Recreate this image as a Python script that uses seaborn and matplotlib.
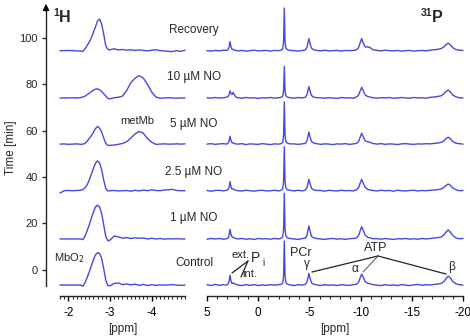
import numpy as np
import pandas as pd
import matplotlib
matplotlib.use("Agg")
import matplotlib.pyplot as plt
import seaborn as sns
from matplotlib.ticker import MultipleLocator, FixedLocator
from matplotlib.transforms import blended_transform_factory

# ---------------- data ----------------
conditions = ["Control", "1 µM NO", "2.5 µM NO", "5 µM NO", "10 µM NO", "Recovery"]
offsets = [-6.6, 13.3, 34.1, 54.2, 74.1, 94.5]          # time [min] of each trace baseline
label_times = [2.9, 22.3, 42.2, 62.9, 83.1, 103.4]

# 1H spectra (ppm grid and intensities, in time units above baseline)
h_ppm = [-1.80, -1.90, -2.00, -2.10, -2.20, -2.30, -2.35, -2.40, -2.45, -2.50,
         -2.55, -2.60, -2.65, -2.70, -2.75, -2.80, -2.85, -2.90, -2.95, -3.00,
         -3.10, -3.20, -3.30, -3.40, -3.50, -3.60, -3.70, -3.80, -3.90, -4.00,
         -4.10, -4.20, -4.30, -4.40, -4.50, -4.60, -4.70, -4.80]
h_control = [0.1, 0.0, 0.1, 0.0, 0.1, 0.0, -0.5, 1.0, 3.2, 5.6,
             8.3, 10.8, 13.0, 14.0, 13.6, 11.5, 7.0, 2.0, -0.2, -0.3,
             0.7, 0.9, 0.2, 0.5, 0.1, 0.4, -0.1, 0.3, -0.2, 0.2,
             -0.1, 0.1, 0.0, 0.1, 0.2, 0.0, -0.1, 0.0]
h_1uM = [0.0, 0.0, 0.0, 0.0, 0.0, 0.0, -0.3, 1.2, 3.5, 6.0,
         8.8, 11.5, 13.8, 14.6, 13.8, 11.0, 6.0, 1.0, -0.8, -0.5,
         1.3, 0.9, 0.3, 0.6, 0.2, 0.5, 0.3, 0.4, 0.0, 0.3,
         0.0, 0.2, -0.1, 0.1, 0.0, 0.1, 0.0, 0.0]
h_2_5uM = [-1.0, 0.0, 0.1, 0.0, 0.1, 0.2, 0.5, 1.2, 2.5, 4.5,
           7.0, 9.5, 11.8, 12.9, 12.0, 9.0, 4.5, 0.8, -0.1, 0.0,
           0.1, -0.1, 0.0, 0.1, -0.2, 0.2, -0.1, 0.3, 0.0, 0.4,
           0.1, 0.0, 0.3, 0.4, 0.6, 0.1, 0.0, 0.0]
h_5uM = [0.0, 0.1, -0.1, 0.0, 0.1, -0.1, 0.0, 0.3, 1.2, 2.4,
         3.6, 5.0, 6.7, 7.6, 6.9, 5.2, 2.6, 0.3, -0.6, -0.5,
         -0.4, -0.1, 0.3, 1.0, 2.6, 4.4, 5.5, 4.7, 2.4, 0.8,
         -0.1, 0.0, 0.1, 0.0, 0.0, 0.1, 0.0, 0.1]
h_10uM = [0.0, 0.0, 0.0, 0.1, 0.0, 0.2, 0.4, 0.8, 1.4, 2.0,
          2.7, 3.3, 3.8, 3.9, 3.5, 2.8, 1.8, 0.8, -0.2, -0.4,
          0.1, 0.3, 0.8, 3.2, 6.6, 8.5, 9.6, 8.6, 5.8, 2.6,
          0.4, -0.1, 0.0, 0.1, 0.0, -0.1, 0.0, 0.0]
h_recovery = [0.0, 0.0, 0.1, 0.0, -0.1, -0.2, -0.3, 0.8, 2.2, 3.6,
              5.5, 7.8, 10.2, 12.8, 13.6, 11.5, 7.0, 2.0, 0.5, 0.4,
              0.8, 0.3, 0.5, 0.2, 0.4, 0.1, 0.3, 0.1, -0.1, 0.2,
              0.4, 0.0, -0.1, -0.3, -0.4, 0.0, -0.3, 0.2]

# 31P spectra
p_ppm = [5.0, 4.6, 4.2, 3.8, 3.4, 3.1,
         2.95, 2.85, 2.75, 2.65, 2.55, 2.45, 2.35, 2.2, 2.0,
         1.6, 1.2, 0.8, 0.4, 0.0, -0.4, -0.8, -1.2, -1.6, -2.0, -2.25,
         -2.4, -2.48, -2.55, -2.62, -2.7, -2.85, -3.1,
         -3.5, -3.9, -4.3, -4.6,
         -4.75, -4.85, -4.95, -5.05, -5.2, -5.4, -5.7,
         -6.1, -6.5, -6.9, -7.3, -7.7, -8.1, -8.5, -8.9, -9.3, -9.6,
         -9.8, -9.95, -10.1, -10.25, -10.45, -10.7, -10.9, -11.2,
         -11.6, -12.0, -12.4, -12.8, -13.2, -13.6, -14.0, -14.4, -14.8, -15.2,
         -15.6, -16.0, -16.4, -16.8, -17.2, -17.6, -17.9,
         -18.15, -18.35, -18.55, -18.75, -19.0, -19.3,
         -19.6, -20.0]
p_control = [0.2, -0.2, 0.3, -0.1, 0.2, 0.0,
             0.4, 1.5, 4.3, 1.6, 0.6, 0.9, 0.8, 0.3, 0.1,
             -0.2, 0.2, -0.1, 0.2, -0.2, 0.1, -0.1, 0.2, 0.0, 0.2, 0.3,
             0.9, 4.0, 19.0, 4.0, 1.2, 0.4, 0.1,
             -0.2, 0.2, 0.0, 0.3,
             1.2, 3.0, 5.0, 3.2, 1.0, 0.4, 0.1,
             -0.2, 0.2, -0.1, 0.1, -0.2, 0.2, 0.0, -0.1, 0.2, 0.4,
             1.2, 3.0, 4.7, 3.5, 1.5, 0.8, 0.6, 0.2,
             0.0, -0.2, 0.2, -0.1, 0.1, -0.2, 0.2, 0.0, -0.2, 0.1,
             0.3, -0.1, 0.2, 0.0, 0.3, 0.5, 0.8,
             1.6, 2.8, 3.9, 3.2, 1.6, 0.6,
             0.2, 0.0]
p_1uM = [-0.1, 0.2, 0.0, 0.2, -0.1, 0.1,
         0.3, 1.4, 4.2, 1.8, 0.9, 0.7, 0.4, 0.2, 0.0,
         0.2, -0.1, 0.1, -0.2, 0.2, 0.0, 0.1, -0.1, 0.2, 0.0, 0.3,
         1.0, 4.2, 19.7, 4.2, 1.3, 0.5, 0.2,
         0.0, -0.2, 0.2, 0.3,
         1.4, 3.5, 5.6, 3.6, 1.2, 0.5, 0.2,
         0.0, -0.2, 0.1, 0.2, -0.1, 0.1, -0.2, 0.1, 0.2, 0.4,
         1.4, 3.4, 5.3, 3.8, 1.6, 0.7, 0.5, 0.1,
         0.1, -0.1, 0.2, 0.0, -0.2, 0.1, 0.0, 0.2, -0.1, 0.1,
         -0.1, 0.2, 0.0, 0.2, 0.4, 0.6, 0.9,
         1.8, 3.0, 3.9, 3.0, 1.5, 0.5,
         0.1, 0.2]
p_2_5uM = [0.1, -0.2, 0.1, 0.2, -0.1, 0.2,
           0.5, 1.3, 3.9, 1.6, 0.7, 0.8, 0.5, 0.2, 0.0,
           -0.1, 0.2, 0.0, -0.2, 0.1, 0.2, -0.1, 0.0, 0.2, -0.1, 0.2,
           0.9, 4.0, 19.0, 4.0, 1.2, 0.4, 0.2,
           -0.1, 0.2, -0.1, 0.3,
           1.2, 3.0, 4.9, 3.2, 1.1, 0.4, 0.1,
           0.1, -0.2, 0.2, 0.0, -0.1, 0.2, 0.0, 0.1, -0.1, 0.4,
           1.3, 3.2, 4.9, 3.4, 1.4, 0.6, 0.3, 0.1,
           -0.1, 0.2, 0.0, 0.1, -0.2, 0.2, 0.0, -0.1, 0.1, 0.2,
           -0.1, 0.1, 0.0, 0.2, 0.3, 0.5, 0.8,
           1.5, 2.3, 2.9, 2.4, 1.2, 0.5,
           0.0, 0.1]
p_5uM = [0.0, 0.2, -0.1, 0.1, 0.2, 0.0,
         0.4, 1.2, 3.4, 1.4, 0.6, 0.5, 0.3, 0.1, 0.0,
         0.2, -0.2, 0.1, 0.0, -0.1, 0.2, 0.0, -0.2, 0.1, 0.0, 0.2,
         0.8, 3.8, 18.2, 3.8, 1.1, 0.4, 0.1,
         0.1, -0.1, 0.1, 0.3,
         1.3, 3.2, 5.2, 3.3, 1.2, 0.5, 0.2,
         -0.1, 0.1, 0.0, -0.2, 0.1, 0.0, 0.2, -0.1, 0.1, 0.3,
         1.1, 2.9, 4.7, 3.2, 1.4, 1.0, 0.8, 0.3,
         0.0, 0.2, -0.1, 0.1, 0.0, -0.2, 0.1, 0.2, 0.0, -0.1,
         0.1, 0.0, 0.2, 0.1, 0.3, 0.5, 0.8,
         1.5, 2.4, 3.0, 2.4, 1.1, 0.4,
         0.2, 0.0]
p_10uM = [0.1, -0.1, 0.2, 0.0, 0.1, 0.3,
          0.6, 1.4, 3.1, 2.0, 1.5, 2.4, 1.6, 0.5, 0.1,
          -0.1, 0.2, 0.0, 0.1, -0.2, 0.1, 0.0, 0.2, -0.1, 0.1, 0.3,
          0.8, 3.2, 13.6, 3.2, 1.0, 0.4, 0.1,
          -0.1, 0.2, 0.0, 0.3,
          1.3, 3.1, 4.9, 3.2, 1.1, 0.4, 0.1,
          0.1, -0.1, 0.1, 0.0, -0.2, 0.2, 0.0, 0.1, -0.1, 0.4,
          1.2, 2.9, 4.6, 3.2, 1.3, 0.6, 0.4, 0.1,
          -0.1, 0.1, 0.0, 0.2, -0.1, 0.0, 0.2, 0.0, -0.1, 0.2,
          0.0, 0.1, -0.1, 0.3, 0.4, 0.7, 1.0,
          1.8, 2.8, 3.4, 2.7, 1.3, 0.5,
          0.1, 0.0]
p_recovery = [0.0, -0.2, 0.1, -0.1, 0.2, 0.1,
              0.4, 1.3, 3.9, 1.5, 0.6, 0.5, 0.3, 0.1, -0.1,
              0.1, -0.2, 0.0, 0.2, -0.1, 0.0, 0.1, -0.2, 0.1, 0.0, 0.2,
              0.9, 3.9, 18.4, 3.9, 1.1, 0.4, 0.1,
              0.0, -0.2, 0.1, 0.3,
              1.3, 3.2, 5.2, 3.3, 1.1, 0.4, 0.1,
              -0.1, 0.2, -0.1, 0.0, 0.1, -0.2, 0.1, 0.0, 0.1, 0.4,
              1.3, 3.3, 5.2, 3.4, 1.6, 1.6, 1.4, 0.4,
              0.1, -0.1, 0.2, 0.0, -0.1, 0.1, -0.2, 0.0, 0.1, -0.2,
              0.0, 0.1, -0.1, 0.2, 0.4, 0.6, 1.0,
              1.7, 2.6, 3.2, 2.6, 1.3, 0.5,
              0.2, 0.1]

h_traces = [h_control, h_1uM, h_2_5uM, h_5uM, h_10uM, h_recovery]
p_traces = [p_control, p_1uM, p_2_5uM, p_5uM, p_10uM, p_recovery]

h_xticks = [-2, -3, -4]
p_xticks = [5, 0, -5, -10, -15, -20]
y_ticks = [0, 20, 40, 60, 80, 100]

# ---------------- style ----------------
sns.set_theme(style="ticks")
plt.rcParams["font.family"] = ["Liberation Sans", "DejaVu Sans"]
plt.rcParams["axes.unicode_minus"] = False

LINE = "#4848de"
W, H = 470, 336
fig = plt.figure(figsize=(W / 100, H / 100), dpi=100)
fig.patch.set_facecolor("white")


def rect(x0, x1, ytop, ybot):
    return [x0 / W, 1 - ybot / H, (x1 - x0) / W, (ybot - ytop) / H]


def t_of(ypx):
    return (269.8 - ypx) / 2.319


axL = fig.add_axes(rect(60, 185, 10, 286))
axR = fig.add_axes(rect(207, 463, 10, 286))
ylo, yhi = t_of(286), t_of(10)

for off, hv, pv in zip(offsets, h_traces, p_traces):
    dH = pd.DataFrame({"ppm": h_ppm, "t": np.array(hv) + off})
    dP = pd.DataFrame({"ppm": p_ppm, "t": np.array(pv) + off})
    sns.lineplot(data=dH, x="ppm", y="t", ax=axL, color=LINE, lw=1.0,
                 estimator=None, sort=False, clip_on=False)
    sns.lineplot(data=dP, x="ppm", y="t", ax=axR, color=LINE, lw=1.0,
                 estimator=None, sort=False, clip_on=False)

for ax in (axL, axR):
    ax.set_facecolor("none")
    ax.set_ylim(ylo, yhi)
    ax.set_xlabel("[ppm]", fontsize=8.5, labelpad=3)
    for s in ("top", "right"):
        ax.spines[s].set_visible(False)
    ax.spines["bottom"].set_position(("outward", 7.2))
    ax.spines["bottom"].set_linewidth(1.0)
    ax.tick_params(axis="x", which="major", length=3.8, width=1.0, labelsize=8.5, pad=4, colors="black")
    ax.tick_params(axis="x", which="minor", length=2.3, width=0.8)

axL.set_xlim(-1.8, -4.8)
axL.xaxis.set_major_locator(FixedLocator(h_xticks))
axL.xaxis.set_minor_locator(MultipleLocator(0.1))
axL.set_yticks(y_ticks)
axL.spines["left"].set_position(("outward", 10.1))
axL.spines["left"].set_linewidth(1.0)
axL.tick_params(axis="y", length=3.0, width=1.0, labelsize=8, pad=3)
axL.set_ylabel("Time [min]", fontsize=8.5, labelpad=1.5)

axR.set_xlim(5, -20)
axR.xaxis.set_major_locator(FixedLocator(p_xticks))
axR.xaxis.set_minor_locator(MultipleLocator(1))
axR.spines["left"].set_visible(False)
axR.set_yticks([])
axR.set_ylabel("")

# arrow head on the time axis
fig.add_artist(matplotlib.patches.FancyArrowPatch(
    (46 / W, 1 - 14 / H), (46 / W, 1 - 1 / H), transform=fig.transFigure,
    arrowstyle="-|>", mutation_scale=9, color="black", lw=1.0))

# nucleus titles
fig.text(53 / W, 1 - 16 / H, "1", fontsize=7.5, fontweight="bold", ha="left", va="baseline")
fig.text(58.5 / W, 1 - 21.5 / H, "H", fontsize=11.5, fontweight="bold", ha="left", va="baseline")
fig.text(421 / W, 1 - 15.5 / H, "31", fontsize=7.5, fontweight="bold", ha="left", va="baseline")
fig.text(432 / W, 1 - 21.5 / H, "P", fontsize=11.5, fontweight="bold", ha="left", va="baseline")

# condition labels
tr = blended_transform_factory(fig.transFigure, axL.transData)
for name, tl in zip(conditions, label_times):
    axL.text(194 / W, tl, name, transform=tr, fontsize=8.5, ha="center", va="center")

axL.text(-2.02, t_of(258), "MbO$_2$", fontsize=8, ha="center", va="center")
axL.text(-3.66, t_of(121), "metMb", fontsize=8, ha="center", va="center")

# 31P annotations
def ppm_of(xpx):
    return 5 - (xpx - 207) / 10.24

txt = dict(ha="center", va="center", clip_on=False)
axR.text(ppm_of(300.5), t_of(253), "PCr", fontsize=9, **txt)
axR.text(ppm_of(240), t_of(255), "ext.", fontsize=8, **txt)
axR.text(ppm_of(255), t_of(258), "P", fontsize=10, **txt)
axR.text(ppm_of(263.5), t_of(263), "i", fontsize=7, **txt)
axR.text(ppm_of(250), t_of(274), "int.", fontsize=8, **txt)
axR.text(ppm_of(376), t_of(248), "ATP", fontsize=9, **txt)
axR.text(ppm_of(307), t_of(264), "γ", fontsize=8.5, **txt)
axR.text(ppm_of(355), t_of(269), "α", fontsize=8.5, **txt)
axR.text(ppm_of(452), t_of(267), "β", fontsize=8.5, **txt)

lk = dict(color="#222222", lw=0.9, clip_on=False)
axR.plot([ppm_of(248), ppm_of(232)], [t_of(261), t_of(273)], **lk)
axR.plot([ppm_of(248), ppm_of(241)], [t_of(261), t_of(277)], **lk)
hub = (ppm_of(378), t_of(256))
axR.plot([hub[0], ppm_of(312)], [hub[1], t_of(272)], **lk)
axR.plot([hub[0], ppm_of(363)], [hub[1], t_of(272)], color="#666666", lw=0.8, clip_on=False)
axR.plot([hub[0], ppm_of(446)], [hub[1], t_of(274)], **lk)

fig.savefig("out.png", dpi=100, facecolor="white")
